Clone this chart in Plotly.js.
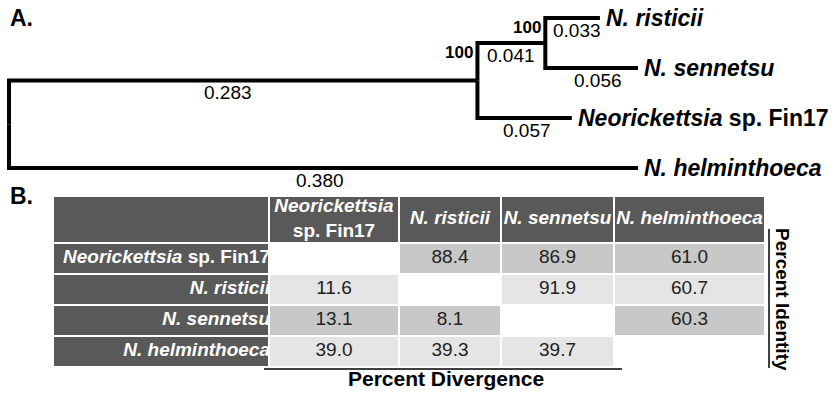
<!DOCTYPE html>
<html><head><meta charset="utf-8">
<script src="https://cdn.plot.ly/plotly-3.0.1.min.js"></script>
<style>html,body{margin:0;padding:0;background:#fff}#chart{width:836px;height:393px}</style>
</head><body><div id="chart"></div>
<script>
// ---------- data: phylogenetic tree ----------
const leafNames = ['<b><i>N. risticii</i></b>', '<b><i>N. sennetsu</i></b>', '<b><i>Neorickettsia</i> sp. Fin17</b>', '<b><i>N. helminthoeca</i></b>'];
const leafBranchLengths = [0.033, 0.056, 0.057, 0.380];
const innerBranchLengths = [0.283, 0.041];   // root -> clade, clade -> (risticii, sennetsu)
const bootstrapValues = [100, 100];          // clade node, (risticii, sennetsu) node

// ---------- data: pairwise table ----------
const taxa = ['<i>Neorickettsia</i> sp. Fin17', '<i>N. risticii</i>', '<i>N. sennetsu</i>', '<i>N. helminthoeca</i>'];
const headerLabels = ['<i>Neorickettsia</i><br>sp. Fin17', '<i>N. risticii</i>', '<i>N. sennetsu</i>', '<i>N. helminthoeca</i>'];
const percentIdentity = [[88.4, 86.9, 61.0], [91.9, 60.7], [60.3]];      // upper triangle, by row
const percentDivergence = [[11.6], [13.1, 8.1], [39.0, 39.3, 39.7]];     // lower triangle, rows 2..4

// ---------- layout constants ----------
const FONT = 'Liberation Sans, Arial, sans-serif';
const COL_EDGES = [53, 269, 399, 501, 614, 765];
const ROW_EDGES = [196, 243, 274, 305, 336, 367];
const DARK = '#595959', MED = '#c8c8c8', LIGHT = '#e5e5e5';
const BRANCH_LABEL_XSHIFT = [-15, 0, 4, 6, 2, -4];

// ---------- tree geometry from branch lengths ----------
const yLeaf = [0, 1, 2, 3];
const xN1 = innerBranchLengths[0];
const xN2 = xN1 + innerBranchLengths[1];
const yN2 = (yLeaf[0] + yLeaf[1]) / 2;
const yN1 = (yN2 + yLeaf[2]) / 2;
const yRoot = (yN1 + yLeaf[3]) / 2;
const parentX = [xN2, xN2, xN1, 0];
const parentY = [yN2, yN2, yN1, yRoot];
const tipX = leafBranchLengths.map((b, i) => parentX[i] + b);

const tx = [], ty = [];
function branch(xp, yp, xc, yc) { tx.push(xp, xp, xc, null); ty.push(yp, yc, yc, null); }
branch(0, yRoot, xN1, yN1);
branch(xN1, yN1, xN2, yN2);
for (let i = 0; i < 4; i++) branch(parentX[i], parentY[i], tipX[i], yLeaf[i]);

const annotations = [];
// branch length labels
const blabels = [
  [0, xN1, yN1, innerBranchLengths[0]],
  [xN1, xN2, yN2, innerBranchLengths[1]],
];
for (let i = 0; i < 4; i++) blabels.push([parentX[i], tipX[i], yLeaf[i], leafBranchLengths[i]]);
blabels.forEach(([a, b, y, v], k) => annotations.push({
  x: (a + b) / 2, y: y, xref: 'x', yref: 'y', text: v.toFixed(3), showarrow: false,
  xshift: BRANCH_LABEL_XSHIFT[k], yshift: -12, font: {family: FONT, size: 19, color: '#000'}
}));
// bootstrap labels
[[xN1, yN2, bootstrapValues[0]], [xN2, yLeaf[0], bootstrapValues[1]]].forEach(([x, y, v]) => annotations.push({
  x: x, y: y, xref: 'x', yref: 'y', text: '<b>' + v + '</b>', showarrow: false, xanchor: 'right',
  xshift: -2, yshift: -9, font: {family: FONT, size: 17, color: '#000'}
}));
// leaf labels
leafNames.forEach((n, i) => annotations.push({
  x: tipX[i], y: yLeaf[i], xref: 'x', yref: 'y', text: n, showarrow: false, xanchor: 'left',
  xshift: 4, font: {family: FONT, size: 23, color: '#000'}
}));
// panel letters and axis-like titles
annotations.push({x: 8, y: 18, xref: 'x2', yref: 'y2', text: '<b>A.</b>', showarrow: false, xanchor: 'left', font: {family: FONT, size: 23, color: '#000'}});
annotations.push({x: 8, y: 196, xref: 'x2', yref: 'y2', text: '<b>B.</b>', showarrow: false, xanchor: 'left', font: {family: FONT, size: 23, color: '#000'}});
annotations.push({x: 446, y: 378.5, xref: 'x2', yref: 'y2', text: '<b>Percent Divergence</b>', showarrow: false, font: {family: FONT, size: 21, color: '#000'}});
annotations.push({x: 783, y: 299, xref: 'x2', yref: 'y2', text: '<b>Percent Identity</b>', showarrow: false, textangle: 90, font: {family: FONT, size: 19, color: '#000'}});

// ---------- table cells ----------
const z = [];
z.push([3, 3, 3, 3, 3]);
for (let i = 0; i < 4; i++) {
  const row = [3];
  for (let j = 0; j < 4; j++) row.push(i === j ? 0 : (i % 2 === 0 ? 2 : 1));
  z.push(row);
}
const colCenter = COL_EDGES.slice(0, -1).map((e, k) => (e + COL_EDGES[k + 1]) / 2);
const rowCenter = ROW_EDGES.slice(0, -1).map((e, k) => (e + ROW_EDGES[k + 1]) / 2);

const sx = [], sy = [], st = [], sc = [], sp = [], ss = [];
headerLabels.forEach((h, j) => { sx.push(colCenter[j + 1]); sy.push(rowCenter[0]); st.push('<b>' + h + '</b>'); sc.push('#fff'); sp.push('middle center'); ss.push(19); });
taxa.forEach((t, i) => { sx.push(COL_EDGES[1] + 1); sy.push(rowCenter[i + 1]); st.push('<b>' + t + '</b>'); sc.push('#fff'); sp.push('middle left'); ss.push(19); });
for (let i = 0; i < 4; i++) for (let j = 0; j < 4; j++) {
  let v = null;
  if (j > i) v = percentIdentity[i][j - i - 1];
  if (j < i) v = percentDivergence[i - 1][j];
  if (v === null) continue;
  sx.push(colCenter[j + 1]); sy.push(rowCenter[i + 1]); st.push(v.toFixed(1)); sc.push('#222'); sp.push('middle center'); ss.push(19);
}

const traces = [
  {type: 'scatter', mode: 'lines', x: tx, y: ty, xaxis: 'x', yaxis: 'y', line: {color: '#000', width: 4}, hoverinfo: 'skip', cliponaxis: false},
  {type: 'heatmap', x: COL_EDGES, y: ROW_EDGES, z: z, xaxis: 'x2', yaxis: 'y2', zmin: 0, zmax: 3, showscale: false,
   xgap: 2, ygap: 2, hoverinfo: 'skip',
   colorscale: [[0, '#ffffff'], [0.3333, LIGHT], [0.6667, MED], [1, DARK]]},
  {type: 'scatter', mode: 'text', x: sx, y: sy, text: st, textposition: sp, xaxis: 'x2', yaxis: 'y2', cliponaxis: false,
   textfont: {family: FONT, size: ss, color: sc}, hoverinfo: 'skip'}
];

const s = (638 - 9) / 0.380;
const layout = {
  width: 836, height: 393, margin: {l: 0, r: 0, t: 0, b: 0},
  paper_bgcolor: '#fff', plot_bgcolor: 'rgba(0,0,0,0)', showlegend: false,
  xaxis: {domain: [0, 1], range: [-9 / s, 827 / s], visible: false, fixedrange: true},
  yaxis: {domain: [0, 1], range: [(393 - 18) / 50, -18 / 50], visible: false, fixedrange: true},
  xaxis2: {domain: [0, 1], range: [0, 836], visible: false, fixedrange: true, anchor: 'y2'},
  yaxis2: {domain: [0, 1], range: [393, 0], visible: false, fixedrange: true, anchor: 'x2'},
  annotations: annotations,
  shapes: [
    {type: 'line', xref: 'x2', yref: 'y2', x0: 264, x1: 622, y0: 369, y1: 369, line: {color: '#000', width: 1.5}},
    {type: 'line', xref: 'x2', yref: 'y2', x0: 769, x1: 769, y0: 229, y1: 368, line: {color: '#000', width: 1.5}}
  ]
};
Plotly.newPlot('chart', traces, layout, {staticPlot: true, displayModeBar: false});
</script></body></html>
